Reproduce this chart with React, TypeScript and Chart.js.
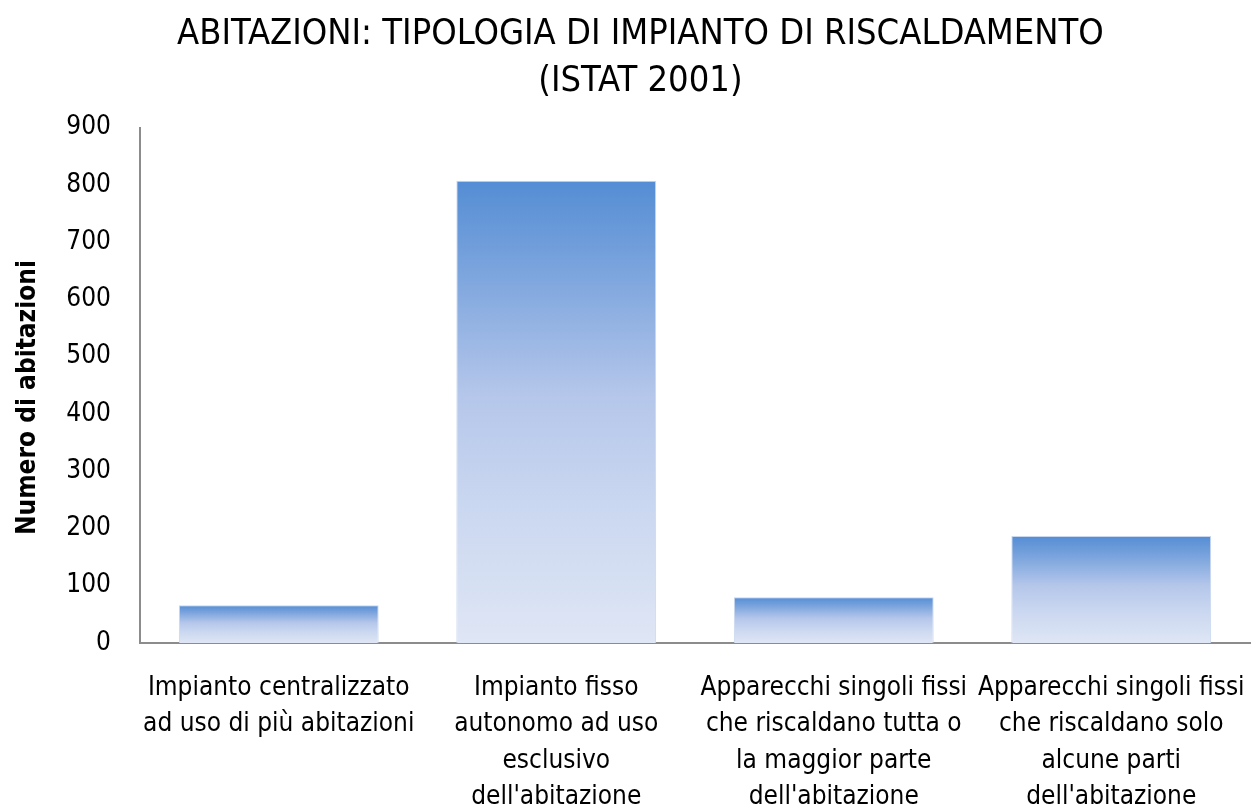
import React, { useEffect, useRef } from "react";
import { Chart, registerables } from "chart.js";

Chart.register(...registerables);

const titleLines = ["ABITAZIONI: TIPOLOGIA DI IMPIANTO DI RISCALDAMENTO", "(ISTAT 2001)"];
const yAxisTitle = "Numero di abitazioni";
const categories: string[][] = [
  ["Impianto centralizzato", "ad uso di più abitazioni"],
  ["Impianto fisso", "autonomo ad uso", "esclusivo", "dell'abitazione"],
  ["Apparecchi singoli fissi", "che riscaldano tutta o", "la maggior parte", "dell'abitazione"],
  ["Apparecchi singoli fissi", "che riscaldano solo", "alcune parti", "dell'abitazione"],
];
const values = [66, 807, 80, 187];
const yMin = 0;
const yMax = 900;
const yStep = 100;

const FONT = "'Liberation Sans Narrow', 'Arial Narrow', 'DejaVu Sans Condensed', sans-serif";

export default function App() {
  const ref = useRef<HTMLCanvasElement | null>(null);
  useEffect(() => {
    if (!ref.current) return;
    const chart = new Chart(ref.current, {
      type: "bar",
      data: {
        labels: categories,
        datasets: [
          {
            data: values,
            backgroundColor: (ctx: any) => {
              const c = ctx.chart;
              const y = c.scales && c.scales.y;
              if (!y || ctx.raw == null) return "#8fb0e0";
              const top = y.getPixelForValue(ctx.raw);
              const bottom = y.getPixelForValue(0);
              if (!isFinite(top) || !isFinite(bottom) || top === bottom) return "#8fb0e0";
              const g = c.ctx.createLinearGradient(0, top, 0, bottom);
              g.addColorStop(0, "#548dd4");
              g.addColorStop(0.17, "#76a1dc");
              g.addColorStop(0.46, "#b4c6ea");
              g.addColorStop(0.7, "#cad7f0");
              g.addColorStop(1, "#dfe6f5");
              return g;
            },
            borderColor: "#c9d7ef",
            borderWidth: 1,
            categoryPercentage: 1,
            barPercentage: 0.72,
          },
        ],
      },
      options: {
        animation: false,
        responsive: false,
        maintainAspectRatio: false,
        layout: { padding: { left: 0, right: 8, top: 11, bottom: 0 } },
        plugins: {
          legend: { display: false },
          tooltip: { enabled: false },
          title: {
            display: true,
            text: titleLines.map((t) => "   " + t),
            color: "#000",
            font: { family: FONT, size: 36, weight: "normal", lineHeight: 1.3 },
            padding: { top: 0, bottom: 23 },
          },
        },
        scales: {
          x: {
            grid: { display: false, drawTicks: false },
            border: { display: true, color: "#8c8c8c", width: 2 },
            ticks: {
              color: "#000",
              font: { family: FONT, size: 26, lineHeight: 1.4 },
              padding: 27,
              maxRotation: 0,
              autoSkip: false,
            },
            afterFit: (s: any) => {
              s.height = 166;
              s.paddingLeft = 0;
              s.paddingRight = 0;
            },
          },
          y: {
            min: yMin,
            max: yMax,
            grid: { display: false, drawTicks: false },
            border: { display: true, color: "#8c8c8c", width: 2 },
            ticks: {
              stepSize: yStep,
              color: "#000",
              font: { family: FONT, size: 26 },
              padding: 29,
            },
            title: {
              display: true,
              text: yAxisTitle + "   ",
              color: "#000",
              font: { family: FONT, size: 26, weight: "bold" },
              padding: { top: 13, bottom: 0 },
            },
            afterFit: (s: any) => {
              s.width = 140;
            },
          },
        },
      },
    });
    return () => chart.destroy();
  }, []);
  return (
    <div style={{ position: "absolute", left: 0, top: 0, width: 1258, height: 809, background: "#fff" }}>
      <canvas ref={ref} width={1258} height={809} style={{ width: 1258, height: 809 }} />
    </div>
  );
}
